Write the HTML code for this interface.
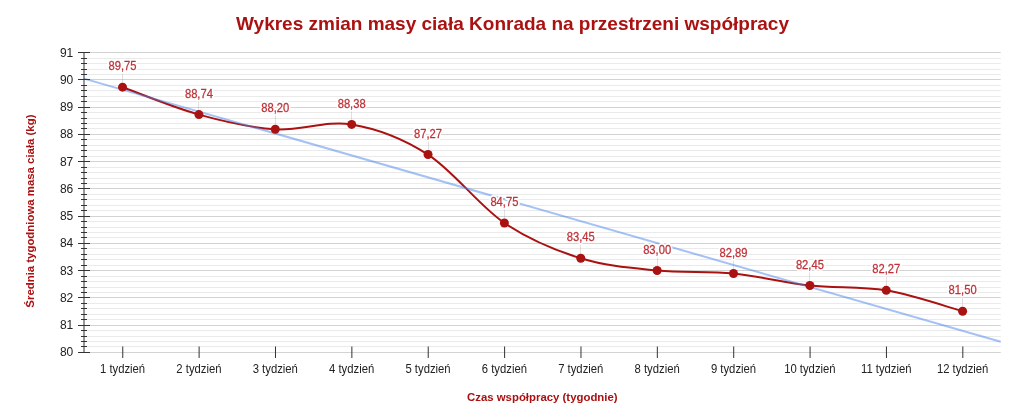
<!DOCTYPE html>
<html><head><meta charset="utf-8"><title>Wykres</title><style>html,body{margin:0;padding:0;background:#fff;width:1024px;height:413px;overflow:hidden}</style></head><body>
<svg width="1024" height="413" viewBox="0 0 1024 413" style="display:block">
<rect x="0" y="0" width="1024" height="413" fill="#ffffff"/>
<text x="512.5" y="29.7" text-anchor="middle" font-family="Liberation Sans, Arial, sans-serif" font-weight="bold" font-size="19" fill="#aa1111">Wykres zmian masy ciała Konrada na przestrzeni współpracy</text>
<rect x="84.0" y="352" width="916.7" height="1" fill="#d3d3d3"/>
<rect x="84.0" y="346" width="916.7" height="1" fill="#eaeaea"/>
<rect x="84.0" y="341" width="916.7" height="1" fill="#eaeaea"/>
<rect x="84.0" y="336" width="916.7" height="1" fill="#eaeaea"/>
<rect x="84.0" y="330" width="916.7" height="1" fill="#eaeaea"/>
<rect x="84.0" y="325" width="916.7" height="1" fill="#d3d3d3"/>
<rect x="84.0" y="319" width="916.7" height="1" fill="#eaeaea"/>
<rect x="84.0" y="314" width="916.7" height="1" fill="#eaeaea"/>
<rect x="84.0" y="308" width="916.7" height="1" fill="#eaeaea"/>
<rect x="84.0" y="303" width="916.7" height="1" fill="#eaeaea"/>
<rect x="84.0" y="297" width="916.7" height="1" fill="#d3d3d3"/>
<rect x="84.0" y="292" width="916.7" height="1" fill="#eaeaea"/>
<rect x="84.0" y="287" width="916.7" height="1" fill="#eaeaea"/>
<rect x="84.0" y="281" width="916.7" height="1" fill="#eaeaea"/>
<rect x="84.0" y="276" width="916.7" height="1" fill="#eaeaea"/>
<rect x="84.0" y="270" width="916.7" height="1" fill="#d3d3d3"/>
<rect x="84.0" y="265" width="916.7" height="1" fill="#eaeaea"/>
<rect x="84.0" y="259" width="916.7" height="1" fill="#eaeaea"/>
<rect x="84.0" y="254" width="916.7" height="1" fill="#eaeaea"/>
<rect x="84.0" y="248" width="916.7" height="1" fill="#eaeaea"/>
<rect x="84.0" y="243" width="916.7" height="1" fill="#d3d3d3"/>
<rect x="84.0" y="237" width="916.7" height="1" fill="#eaeaea"/>
<rect x="84.0" y="232" width="916.7" height="1" fill="#eaeaea"/>
<rect x="84.0" y="227" width="916.7" height="1" fill="#eaeaea"/>
<rect x="84.0" y="221" width="916.7" height="1" fill="#eaeaea"/>
<rect x="84.0" y="216" width="916.7" height="1" fill="#d3d3d3"/>
<rect x="84.0" y="210" width="916.7" height="1" fill="#eaeaea"/>
<rect x="84.0" y="205" width="916.7" height="1" fill="#eaeaea"/>
<rect x="84.0" y="199" width="916.7" height="1" fill="#eaeaea"/>
<rect x="84.0" y="194" width="916.7" height="1" fill="#eaeaea"/>
<rect x="84.0" y="188" width="916.7" height="1" fill="#d3d3d3"/>
<rect x="84.0" y="183" width="916.7" height="1" fill="#eaeaea"/>
<rect x="84.0" y="178" width="916.7" height="1" fill="#eaeaea"/>
<rect x="84.0" y="172" width="916.7" height="1" fill="#eaeaea"/>
<rect x="84.0" y="167" width="916.7" height="1" fill="#eaeaea"/>
<rect x="84.0" y="161" width="916.7" height="1" fill="#d3d3d3"/>
<rect x="84.0" y="156" width="916.7" height="1" fill="#eaeaea"/>
<rect x="84.0" y="150" width="916.7" height="1" fill="#eaeaea"/>
<rect x="84.0" y="145" width="916.7" height="1" fill="#eaeaea"/>
<rect x="84.0" y="139" width="916.7" height="1" fill="#eaeaea"/>
<rect x="84.0" y="134" width="916.7" height="1" fill="#d3d3d3"/>
<rect x="84.0" y="128" width="916.7" height="1" fill="#eaeaea"/>
<rect x="84.0" y="123" width="916.7" height="1" fill="#eaeaea"/>
<rect x="84.0" y="118" width="916.7" height="1" fill="#eaeaea"/>
<rect x="84.0" y="112" width="916.7" height="1" fill="#eaeaea"/>
<rect x="84.0" y="107" width="916.7" height="1" fill="#d3d3d3"/>
<rect x="84.0" y="101" width="916.7" height="1" fill="#eaeaea"/>
<rect x="84.0" y="96" width="916.7" height="1" fill="#eaeaea"/>
<rect x="84.0" y="90" width="916.7" height="1" fill="#eaeaea"/>
<rect x="84.0" y="85" width="916.7" height="1" fill="#eaeaea"/>
<rect x="84.0" y="79" width="916.7" height="1" fill="#d3d3d3"/>
<rect x="84.0" y="74" width="916.7" height="1" fill="#eaeaea"/>
<rect x="84.0" y="69" width="916.7" height="1" fill="#eaeaea"/>
<rect x="84.0" y="63" width="916.7" height="1" fill="#eaeaea"/>
<rect x="84.0" y="58" width="916.7" height="1" fill="#eaeaea"/>
<rect x="84.0" y="52" width="916.7" height="1" fill="#d3d3d3"/>
<text x="73.3" y="356.30" text-anchor="end" font-family="Liberation Sans, Arial, sans-serif" font-size="12" fill="#222222">80</text>
<text x="73.3" y="329.05" text-anchor="end" font-family="Liberation Sans, Arial, sans-serif" font-size="12" fill="#222222">81</text>
<text x="73.3" y="301.81" text-anchor="end" font-family="Liberation Sans, Arial, sans-serif" font-size="12" fill="#222222">82</text>
<text x="73.3" y="274.56" text-anchor="end" font-family="Liberation Sans, Arial, sans-serif" font-size="12" fill="#222222">83</text>
<text x="73.3" y="247.32" text-anchor="end" font-family="Liberation Sans, Arial, sans-serif" font-size="12" fill="#222222">84</text>
<text x="73.3" y="220.07" text-anchor="end" font-family="Liberation Sans, Arial, sans-serif" font-size="12" fill="#222222">85</text>
<text x="73.3" y="192.83" text-anchor="end" font-family="Liberation Sans, Arial, sans-serif" font-size="12" fill="#222222">86</text>
<text x="73.3" y="165.58" text-anchor="end" font-family="Liberation Sans, Arial, sans-serif" font-size="12" fill="#222222">87</text>
<text x="73.3" y="138.34" text-anchor="end" font-family="Liberation Sans, Arial, sans-serif" font-size="12" fill="#222222">88</text>
<text x="73.3" y="111.09" text-anchor="end" font-family="Liberation Sans, Arial, sans-serif" font-size="12" fill="#222222">89</text>
<text x="73.3" y="83.85" text-anchor="end" font-family="Liberation Sans, Arial, sans-serif" font-size="12" fill="#222222">90</text>
<text x="73.3" y="56.60" text-anchor="end" font-family="Liberation Sans, Arial, sans-serif" font-size="12" fill="#222222">91</text>
<line x1="122.75" x2="122.75" y1="346.5" y2="358" stroke="#333333" stroke-width="1"/>
<text transform="translate(122.55,372.8) scale(1,1.07)" text-anchor="middle" font-family="Liberation Sans, Arial, sans-serif" font-size="11.3" fill="#222222">1 tydzień</text>
<line x1="199.12" x2="199.12" y1="346.5" y2="358" stroke="#333333" stroke-width="1"/>
<text transform="translate(198.92,372.8) scale(1,1.07)" text-anchor="middle" font-family="Liberation Sans, Arial, sans-serif" font-size="11.3" fill="#222222">2 tydzień</text>
<line x1="275.49" x2="275.49" y1="346.5" y2="358" stroke="#333333" stroke-width="1"/>
<text transform="translate(275.29,372.8) scale(1,1.07)" text-anchor="middle" font-family="Liberation Sans, Arial, sans-serif" font-size="11.3" fill="#222222">3 tydzień</text>
<line x1="351.86" x2="351.86" y1="346.5" y2="358" stroke="#333333" stroke-width="1"/>
<text transform="translate(351.66,372.8) scale(1,1.07)" text-anchor="middle" font-family="Liberation Sans, Arial, sans-serif" font-size="11.3" fill="#222222">4 tydzień</text>
<line x1="428.23" x2="428.23" y1="346.5" y2="358" stroke="#333333" stroke-width="1"/>
<text transform="translate(428.03,372.8) scale(1,1.07)" text-anchor="middle" font-family="Liberation Sans, Arial, sans-serif" font-size="11.3" fill="#222222">5 tydzień</text>
<line x1="504.60" x2="504.60" y1="346.5" y2="358" stroke="#333333" stroke-width="1"/>
<text transform="translate(504.40,372.8) scale(1,1.07)" text-anchor="middle" font-family="Liberation Sans, Arial, sans-serif" font-size="11.3" fill="#222222">6 tydzień</text>
<line x1="580.97" x2="580.97" y1="346.5" y2="358" stroke="#333333" stroke-width="1"/>
<text transform="translate(580.77,372.8) scale(1,1.07)" text-anchor="middle" font-family="Liberation Sans, Arial, sans-serif" font-size="11.3" fill="#222222">7 tydzień</text>
<line x1="657.34" x2="657.34" y1="346.5" y2="358" stroke="#333333" stroke-width="1"/>
<text transform="translate(657.14,372.8) scale(1,1.07)" text-anchor="middle" font-family="Liberation Sans, Arial, sans-serif" font-size="11.3" fill="#222222">8 tydzień</text>
<line x1="733.71" x2="733.71" y1="346.5" y2="358" stroke="#333333" stroke-width="1"/>
<text transform="translate(733.51,372.8) scale(1,1.07)" text-anchor="middle" font-family="Liberation Sans, Arial, sans-serif" font-size="11.3" fill="#222222">9 tydzień</text>
<line x1="810.08" x2="810.08" y1="346.5" y2="358" stroke="#333333" stroke-width="1"/>
<text transform="translate(809.88,372.8) scale(1,1.07)" text-anchor="middle" font-family="Liberation Sans, Arial, sans-serif" font-size="11.3" fill="#222222">10 tydzień</text>
<line x1="886.45" x2="886.45" y1="346.5" y2="358" stroke="#333333" stroke-width="1"/>
<text transform="translate(886.25,372.8) scale(1,1.07)" text-anchor="middle" font-family="Liberation Sans, Arial, sans-serif" font-size="11.3" fill="#222222">11 tydzień</text>
<line x1="962.82" x2="962.82" y1="346.5" y2="358" stroke="#333333" stroke-width="1"/>
<text transform="translate(962.62,372.8) scale(1,1.07)" text-anchor="middle" font-family="Liberation Sans, Arial, sans-serif" font-size="11.3" fill="#222222">12 tydzień</text>
<path d="M122.55,87.19 C135.28,91.76 173.46,107.61 198.92,114.62 C224.38,121.64 249.83,127.66 275.29,129.29 C300.75,130.92 326.20,120.19 351.66,124.40 C377.12,128.61 402.57,138.12 428.03,154.55 C453.49,170.98 478.94,205.70 504.40,222.99 C529.86,240.28 555.31,250.38 580.77,258.30 C606.23,266.22 631.68,267.99 657.14,270.52 C682.60,273.05 708.05,271.02 733.51,273.51 C758.97,276.00 784.42,282.65 809.88,285.46 C835.34,288.26 860.79,286.05 886.25,290.35 C911.71,294.65 949.89,307.77 962.62,311.26" fill="none" stroke="#aa1111" stroke-width="2"/>
<line x1="84.0" y1="78.60" x2="1000.7" y2="341.67" stroke="#4a86ec" stroke-opacity="0.5" stroke-width="2"/>
<line x1="84.0" x2="84.0" y1="52.2" y2="352.9" stroke="#333333" stroke-width="1"/>
<rect x="78" y="352" width="12" height="1" fill="#333333"/>
<rect x="81" y="346" width="6" height="1" fill="#333333"/>
<rect x="81" y="341" width="6" height="1" fill="#333333"/>
<rect x="81" y="336" width="6" height="1" fill="#333333"/>
<rect x="81" y="330" width="6" height="1" fill="#333333"/>
<rect x="78" y="325" width="12" height="1" fill="#333333"/>
<rect x="81" y="319" width="6" height="1" fill="#333333"/>
<rect x="81" y="314" width="6" height="1" fill="#333333"/>
<rect x="81" y="308" width="6" height="1" fill="#333333"/>
<rect x="81" y="303" width="6" height="1" fill="#333333"/>
<rect x="78" y="297" width="12" height="1" fill="#333333"/>
<rect x="81" y="292" width="6" height="1" fill="#333333"/>
<rect x="81" y="287" width="6" height="1" fill="#333333"/>
<rect x="81" y="281" width="6" height="1" fill="#333333"/>
<rect x="81" y="276" width="6" height="1" fill="#333333"/>
<rect x="78" y="270" width="12" height="1" fill="#333333"/>
<rect x="81" y="265" width="6" height="1" fill="#333333"/>
<rect x="81" y="259" width="6" height="1" fill="#333333"/>
<rect x="81" y="254" width="6" height="1" fill="#333333"/>
<rect x="81" y="248" width="6" height="1" fill="#333333"/>
<rect x="78" y="243" width="12" height="1" fill="#333333"/>
<rect x="81" y="237" width="6" height="1" fill="#333333"/>
<rect x="81" y="232" width="6" height="1" fill="#333333"/>
<rect x="81" y="227" width="6" height="1" fill="#333333"/>
<rect x="81" y="221" width="6" height="1" fill="#333333"/>
<rect x="78" y="216" width="12" height="1" fill="#333333"/>
<rect x="81" y="210" width="6" height="1" fill="#333333"/>
<rect x="81" y="205" width="6" height="1" fill="#333333"/>
<rect x="81" y="199" width="6" height="1" fill="#333333"/>
<rect x="81" y="194" width="6" height="1" fill="#333333"/>
<rect x="78" y="188" width="12" height="1" fill="#333333"/>
<rect x="81" y="183" width="6" height="1" fill="#333333"/>
<rect x="81" y="178" width="6" height="1" fill="#333333"/>
<rect x="81" y="172" width="6" height="1" fill="#333333"/>
<rect x="81" y="167" width="6" height="1" fill="#333333"/>
<rect x="78" y="161" width="12" height="1" fill="#333333"/>
<rect x="81" y="156" width="6" height="1" fill="#333333"/>
<rect x="81" y="150" width="6" height="1" fill="#333333"/>
<rect x="81" y="145" width="6" height="1" fill="#333333"/>
<rect x="81" y="139" width="6" height="1" fill="#333333"/>
<rect x="78" y="134" width="12" height="1" fill="#333333"/>
<rect x="81" y="128" width="6" height="1" fill="#333333"/>
<rect x="81" y="123" width="6" height="1" fill="#333333"/>
<rect x="81" y="118" width="6" height="1" fill="#333333"/>
<rect x="81" y="112" width="6" height="1" fill="#333333"/>
<rect x="78" y="107" width="12" height="1" fill="#333333"/>
<rect x="81" y="101" width="6" height="1" fill="#333333"/>
<rect x="81" y="96" width="6" height="1" fill="#333333"/>
<rect x="81" y="90" width="6" height="1" fill="#333333"/>
<rect x="81" y="85" width="6" height="1" fill="#333333"/>
<rect x="78" y="79" width="12" height="1" fill="#333333"/>
<rect x="81" y="74" width="6" height="1" fill="#333333"/>
<rect x="81" y="69" width="6" height="1" fill="#333333"/>
<rect x="81" y="63" width="6" height="1" fill="#333333"/>
<rect x="81" y="58" width="6" height="1" fill="#333333"/>
<rect x="78" y="52" width="12" height="1" fill="#333333"/>
<line x1="122.50" x2="122.50" y1="72.99" y2="82.69" stroke="#999999" stroke-opacity="0.3" stroke-width="1"/>
<line x1="198.50" x2="198.50" y1="100.42" y2="110.12" stroke="#999999" stroke-opacity="0.3" stroke-width="1"/>
<line x1="275.50" x2="275.50" y1="115.09" y2="124.79" stroke="#999999" stroke-opacity="0.3" stroke-width="1"/>
<line x1="351.50" x2="351.50" y1="110.20" y2="119.90" stroke="#999999" stroke-opacity="0.3" stroke-width="1"/>
<line x1="428.50" x2="428.50" y1="140.35" y2="150.05" stroke="#999999" stroke-opacity="0.3" stroke-width="1"/>
<line x1="504.50" x2="504.50" y1="208.79" y2="218.49" stroke="#999999" stroke-opacity="0.3" stroke-width="1"/>
<line x1="580.50" x2="580.50" y1="244.10" y2="253.80" stroke="#999999" stroke-opacity="0.3" stroke-width="1"/>
<line x1="657.50" x2="657.50" y1="256.32" y2="266.02" stroke="#999999" stroke-opacity="0.3" stroke-width="1"/>
<line x1="733.50" x2="733.50" y1="259.31" y2="269.01" stroke="#999999" stroke-opacity="0.3" stroke-width="1"/>
<line x1="809.50" x2="809.50" y1="271.26" y2="280.96" stroke="#999999" stroke-opacity="0.3" stroke-width="1"/>
<line x1="886.50" x2="886.50" y1="276.15" y2="285.85" stroke="#999999" stroke-opacity="0.3" stroke-width="1"/>
<line x1="962.50" x2="962.50" y1="297.06" y2="306.76" stroke="#999999" stroke-opacity="0.3" stroke-width="1"/>
<circle cx="122.55" cy="87.19" r="4.5" fill="#aa1111"/>
<circle cx="198.92" cy="114.62" r="4.5" fill="#aa1111"/>
<circle cx="275.29" cy="129.29" r="4.5" fill="#aa1111"/>
<circle cx="351.66" cy="124.40" r="4.5" fill="#aa1111"/>
<circle cx="428.03" cy="154.55" r="4.5" fill="#aa1111"/>
<circle cx="504.40" cy="222.99" r="4.5" fill="#aa1111"/>
<circle cx="580.77" cy="258.30" r="4.5" fill="#aa1111"/>
<circle cx="657.14" cy="270.52" r="4.5" fill="#aa1111"/>
<circle cx="733.51" cy="273.51" r="4.5" fill="#aa1111"/>
<circle cx="809.88" cy="285.46" r="4.5" fill="#aa1111"/>
<circle cx="886.25" cy="290.35" r="4.5" fill="#aa1111"/>
<circle cx="962.62" cy="311.26" r="4.5" fill="#aa1111"/>
<g transform="translate(122.55,70.29) scale(1,1.1)" text-anchor="middle" font-family="Liberation Sans, Arial, sans-serif" font-size="11.2"><text fill="#ffffff" stroke="#ffffff" stroke-width="3.5" stroke-linejoin="round" aria-hidden="true">89,75</text><text fill="#bf3238" stroke="#bf3238" stroke-width="0.25" stroke-linejoin="round">89,75</text></g>
<g transform="translate(198.92,97.72) scale(1,1.1)" text-anchor="middle" font-family="Liberation Sans, Arial, sans-serif" font-size="11.2"><text fill="#ffffff" stroke="#ffffff" stroke-width="3.5" stroke-linejoin="round" aria-hidden="true">88,74</text><text fill="#bf3238" stroke="#bf3238" stroke-width="0.25" stroke-linejoin="round">88,74</text></g>
<g transform="translate(275.29,112.39) scale(1,1.1)" text-anchor="middle" font-family="Liberation Sans, Arial, sans-serif" font-size="11.2"><text fill="#ffffff" stroke="#ffffff" stroke-width="3.5" stroke-linejoin="round" aria-hidden="true">88,20</text><text fill="#bf3238" stroke="#bf3238" stroke-width="0.25" stroke-linejoin="round">88,20</text></g>
<g transform="translate(351.66,107.50) scale(1,1.1)" text-anchor="middle" font-family="Liberation Sans, Arial, sans-serif" font-size="11.2"><text fill="#ffffff" stroke="#ffffff" stroke-width="3.5" stroke-linejoin="round" aria-hidden="true">88,38</text><text fill="#bf3238" stroke="#bf3238" stroke-width="0.25" stroke-linejoin="round">88,38</text></g>
<g transform="translate(428.03,137.65) scale(1,1.1)" text-anchor="middle" font-family="Liberation Sans, Arial, sans-serif" font-size="11.2"><text fill="#ffffff" stroke="#ffffff" stroke-width="3.5" stroke-linejoin="round" aria-hidden="true">87,27</text><text fill="#bf3238" stroke="#bf3238" stroke-width="0.25" stroke-linejoin="round">87,27</text></g>
<g transform="translate(504.40,206.09) scale(1,1.1)" text-anchor="middle" font-family="Liberation Sans, Arial, sans-serif" font-size="11.2"><text fill="#ffffff" stroke="#ffffff" stroke-width="3.5" stroke-linejoin="round" aria-hidden="true">84,75</text><text fill="#bf3238" stroke="#bf3238" stroke-width="0.25" stroke-linejoin="round">84,75</text></g>
<g transform="translate(580.77,241.40) scale(1,1.1)" text-anchor="middle" font-family="Liberation Sans, Arial, sans-serif" font-size="11.2"><text fill="#ffffff" stroke="#ffffff" stroke-width="3.5" stroke-linejoin="round" aria-hidden="true">83,45</text><text fill="#bf3238" stroke="#bf3238" stroke-width="0.25" stroke-linejoin="round">83,45</text></g>
<g transform="translate(657.14,253.62) scale(1,1.1)" text-anchor="middle" font-family="Liberation Sans, Arial, sans-serif" font-size="11.2"><text fill="#ffffff" stroke="#ffffff" stroke-width="3.5" stroke-linejoin="round" aria-hidden="true">83,00</text><text fill="#bf3238" stroke="#bf3238" stroke-width="0.25" stroke-linejoin="round">83,00</text></g>
<g transform="translate(733.51,256.61) scale(1,1.1)" text-anchor="middle" font-family="Liberation Sans, Arial, sans-serif" font-size="11.2"><text fill="#ffffff" stroke="#ffffff" stroke-width="3.5" stroke-linejoin="round" aria-hidden="true">82,89</text><text fill="#bf3238" stroke="#bf3238" stroke-width="0.25" stroke-linejoin="round">82,89</text></g>
<g transform="translate(809.88,268.56) scale(1,1.1)" text-anchor="middle" font-family="Liberation Sans, Arial, sans-serif" font-size="11.2"><text fill="#ffffff" stroke="#ffffff" stroke-width="3.5" stroke-linejoin="round" aria-hidden="true">82,45</text><text fill="#bf3238" stroke="#bf3238" stroke-width="0.25" stroke-linejoin="round">82,45</text></g>
<g transform="translate(886.25,273.45) scale(1,1.1)" text-anchor="middle" font-family="Liberation Sans, Arial, sans-serif" font-size="11.2"><text fill="#ffffff" stroke="#ffffff" stroke-width="3.5" stroke-linejoin="round" aria-hidden="true">82,27</text><text fill="#bf3238" stroke="#bf3238" stroke-width="0.25" stroke-linejoin="round">82,27</text></g>
<g transform="translate(962.62,294.36) scale(1,1.1)" text-anchor="middle" font-family="Liberation Sans, Arial, sans-serif" font-size="11.2"><text fill="#ffffff" stroke="#ffffff" stroke-width="3.5" stroke-linejoin="round" aria-hidden="true">81,50</text><text fill="#bf3238" stroke="#bf3238" stroke-width="0.25" stroke-linejoin="round">81,50</text></g>
<text x="542.3" y="401.1" text-anchor="middle" font-family="Liberation Sans, Arial, sans-serif" font-weight="bold" font-size="11.4" fill="#aa1111">Czas współpracy (tygodnie)</text>
<text transform="translate(34.4,211.1) rotate(-90)" x="0" y="0" text-anchor="middle" font-family="Liberation Sans, Arial, sans-serif" font-weight="bold" font-size="11.4" fill="#aa1111">Średnia tygodniowa masa ciała (kg)</text>
</svg>
</body></html>
